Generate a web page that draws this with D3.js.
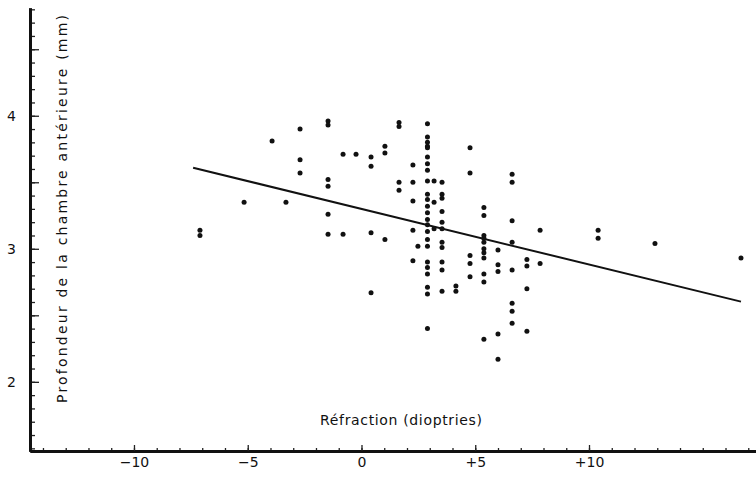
<!doctype html>
<html>
<head>
<meta charset="utf-8">
<title>Profondeur de la chambre antérieure</title>
<script src="https://d3js.org/d3.v7.min.js"></script>
<style>
body { margin: 0; background: #fff; }
text { font-family: "DejaVu Sans", sans-serif; fill: #111; }
</style>
</head>
<body>
<script>
// refraction (dioptries) and anterior chamber depth (mm), one entry per point
var refraction = [
	-7.10, -7.10,
	-5.16,
	-3.93,
	-3.32,
	-2.70, -2.70, -2.70,
	-1.47, -1.47, -1.47, -1.47, -1.47, -1.47,
	-0.81, -0.81,
	-0.24,
	0.42, 0.42, 0.42, 0.42,
	1.03, 1.03, 1.03,
	1.65, 1.65, 1.65, 1.65,
	2.26, 2.26, 2.26, 2.26, 2.26,
	2.48,
	2.90, 2.90, 2.90, 2.90, 2.90, 2.90, 2.90, 2.90, 2.90, 2.90, 2.90, 2.90,
	2.90, 2.90, 2.90, 2.90, 2.90, 2.90, 2.90, 2.90, 2.90, 2.90, 2.90, 2.90,
	3.19, 3.19, 3.19,
	3.54, 3.54, 3.54, 3.54, 3.54, 3.54, 3.54, 3.54, 3.54, 3.54, 3.54,
	4.15, 4.15,
	4.77, 4.77, 4.77, 4.77, 4.77,
	5.38, 5.38, 5.38, 5.38, 5.38, 5.38, 5.38, 5.38, 5.38, 5.38, 5.38,
	6.00, 6.00, 6.00, 6.00, 6.00,
	6.62, 6.62, 6.62, 6.62, 6.62, 6.62, 6.62, 6.62,
	7.27, 7.27, 7.27, 7.27,
	7.85, 7.85,
	10.40, 10.40,
	12.90,
	16.68
];
var depth = [
	3.14, 3.10,
	3.35,
	3.81,
	3.35,
	3.90, 3.67, 3.57,
	3.96, 3.93, 3.52, 3.47, 3.26, 3.11,
	3.71, 3.11,
	3.71,
	3.69, 3.62, 3.12, 2.67,
	3.77, 3.72, 3.07,
	3.95, 3.92, 3.50, 3.44,
	3.63, 3.50, 3.36, 3.14, 2.91,
	3.02,
	3.94, 3.84, 3.80, 3.77, 3.76, 3.69, 3.64, 3.59, 3.51, 3.41, 3.37, 3.32,
	3.27, 3.22, 3.18, 3.13, 3.07, 3.02, 2.90, 2.86, 2.81, 2.71, 2.66, 2.40,
	3.51, 3.35, 3.15,
	3.50, 3.41, 3.38, 3.28, 3.20, 3.15, 3.05, 3.01, 2.90, 2.84, 2.68,
	2.72, 2.68,
	3.76, 3.57, 2.95, 2.89, 2.79,
	3.31, 3.25, 3.10, 3.08, 3.05, 3.00, 2.97, 2.93, 2.81, 2.75, 2.32,
	2.99, 2.88, 2.83, 2.36, 2.17,
	3.56, 3.50, 3.21, 3.05, 2.84, 2.59, 2.53, 2.44,
	2.92, 2.87, 2.70, 2.38,
	3.14, 2.89,
	3.14, 3.08,
	3.04,
	2.93
];

// regression line
var fitIntercept = 3.30,
		fitSlope = -0.0418,
		fitRange = [-7.4, 16.68];

var xLabelTicks = [-10, -5, 0, 5, 10],
		yLabelTicks = [2, 3, 4];

var vizWidth = 756,
		vizHeight = 478,
		plotLeft = 30, plotRight = 756, plotTop = 8, plotBottom = 451;

var viz = d3.select("body").append("svg")
		.attr("width", vizWidth)
		.attr("height", vizHeight);

var x = d3.scaleLinear().domain([-14.57, 17.34]).range([plotLeft, plotRight]);
var y = d3.scaleLinear().domain([1.48, 4.81]).range([plotBottom, plotTop]);

var fmt = function(d) { return d > 0 ? "+" + d : (d < 0 ? "\u2212" + Math.abs(d) : "0"); };

// y axis: minor, half, labelled
viz.append("g").attr("transform", "translate(" + plotLeft + ",0)")
		.call(d3.axisLeft(y).tickValues(d3.range(15, 49).map(d => d / 10)).tickSize(-5).tickSizeOuter(0).tickFormat(""));
viz.append("g").attr("transform", "translate(" + plotLeft + ",0)")
		.call(d3.axisLeft(y).tickValues([2, 2.5, 3, 3.5, 4, 4.5]).tickSize(-9).tickSizeOuter(0).tickFormat(""));
viz.append("g").attr("class", "ylab").attr("transform", "translate(" + plotLeft + ",0)")
		.call(d3.axisLeft(y).tickValues(yLabelTicks).tickSize(0).tickPadding(14).tickSizeOuter(0).tickFormat(d3.format("d")));

// x axis
viz.append("g").attr("transform", "translate(0," + plotBottom + ")")
		.call(d3.axisBottom(x).tickValues(d3.range(-14, 18)).tickSize(-3).tickSizeOuter(0).tickFormat(""));
viz.append("g").attr("class", "xlab").attr("transform", "translate(0," + plotBottom + ")")
		.call(d3.axisBottom(x).tickValues(xLabelTicks).tickSize(-6).tickPadding(6).tickSizeOuter(0).tickFormat(fmt));

viz.selectAll(".domain").attr("stroke", "#111").attr("stroke-width", 3);
viz.selectAll(".tick line").attr("stroke", "#222").attr("stroke-width", 1.3);
viz.selectAll(".tick text").attr("font-size", 14).attr("font-family", "DejaVu Sans, sans-serif").attr("fill", "#111");

// titles
viz.append("text")
		.attr("transform", "translate(67,209) rotate(-90)")
		.attr("text-anchor", "middle")
		.attr("font-size", 14)
		.attr("textLength", 388)
		.attr("lengthAdjust", "spacing")
		.text("Profondeur de la chambre antérieure (mm)");

viz.append("text")
		.attr("x", 401)
		.attr("y", 425)
		.attr("text-anchor", "middle")
		.attr("font-size", 14)
		.attr("textLength", 162)
		.attr("lengthAdjust", "spacing")
		.text("Réfraction (dioptries)");

// regression line
viz.append("line")
		.attr("x1", x(fitRange[0]))
		.attr("y1", y(fitIntercept + fitSlope * fitRange[0]))
		.attr("x2", x(fitRange[1]))
		.attr("y2", y(fitIntercept + fitSlope * fitRange[1]))
		.attr("stroke", "#111")
		.attr("stroke-width", 2);

// points
viz.selectAll("circle.pt")
		.data(d3.range(refraction.length))
		.enter()
		.append("circle")
		.attr("class", "pt")
		.attr("cx", i => x(refraction[i]))
		.attr("cy", i => y(depth[i]))
		.attr("r", 2.5)
		.attr("fill", "#111");
</script>
</body>
</html>
